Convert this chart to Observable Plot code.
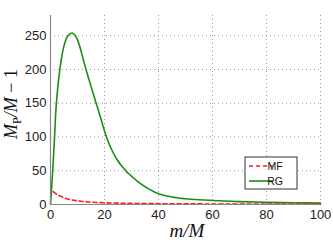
<!DOCTYPE html>
<html><head><meta charset="utf-8">
<script src="https://cdn.jsdelivr.net/npm/d3@7"></script>
<script src="https://cdn.jsdelivr.net/npm/@observablehq/plot@0.6"></script>
<style>body{margin:0;background:#fff}</style>
</head><body><div id="chart"></div>
<script>
const rgX = [0,0.5,1,1.5,2,2.5,3,4,5,6,7,8,9,10,11,12,13,14,15,16,17,18,19,20,21,22,23,24,25,26,27,28,29,30,32,34,36,38,40,45,50,55,60,70,80,90,100];
const rgY = [0,30,62,100,140,165,185,215,235,247,252,254,251,244,232,217,202,188.5,175,162,149,136,122.5,109,97,87,78.5,71,64.5,59,54,49.5,45.5,42,35,29,24,19.5,16,11,8.5,7,6,4.3,3.2,2.6,2.1];
const mfX = [1,2,3,4,5,6,8,10,12,15,20,25,30,40,50,60,80,100];
const mfY = [19,16,13.5,12,10,8.5,6.8,5.5,4.5,3.5,2.6,2,1.6,1.2,1,0.8,0.6,0.5];
const xTicks = [0,20,40,60,80,100];
const yTicks = [0,50,100,150,200,250];
const seriesNames = ["MF","RG"];

const rg = rgX.map((x,i)=>({x, y: rgY[i]}));
const mf = mfX.map((x,i)=>({x, y: mfY[i]}));

const green = "#1a8c1a", red = "#ff1a1a";

const chart = Plot.plot({
  width: 333, height: 242,
  marginLeft: 50, marginRight: 13, marginTop: 15, marginBottom: 38,
  style: {fontFamily: "Liberation Sans, Arial, sans-serif", fontSize: "13px", color: "#222", background: "#fff"},
  x: {domain: [0,100], ticks: xTicks, label: null},
  y: {domain: [0,280], ticks: yTicks, label: null},
  marks: [
    Plot.gridX(xTicks.slice(1), {stroke: "#999", strokeOpacity: 1, strokeDasharray: "1,3"}),
    Plot.gridY(yTicks.slice(1), {stroke: "#999", strokeOpacity: 1, strokeDasharray: "1,3"}),
    Plot.axisX(xTicks, {tickSize: 0, tickPadding: 5, fontSize: 13}),
    Plot.axisY(yTicks, {tickSize: 0, tickPadding: 4, fontSize: 13}),
    Plot.line(rg, {x: "x", y: "y", stroke: green, strokeWidth: 1.6, curve: "catmull-rom"}),
    Plot.line(mf, {x: "x", y: "y", stroke: red, strokeWidth: 1.6, strokeDasharray: "4,3", curve: "catmull-rom"}),
    Plot.ruleX([0], {stroke: "#888", strokeWidth: 1.2}),
    Plot.ruleY([0], {stroke: "#888", strokeWidth: 1.2})
  ]
});
document.getElementById("chart").appendChild(chart);

const svg = d3.select(chart);
// y label
const yl = svg.append("text")
  .attr("transform", "translate(17,104) rotate(-90)")
  .attr("text-anchor", "middle")
  .attr("font-family", "Liberation Serif, DejaVu Serif, serif")
  .attr("font-size", 18).attr("fill", "#111");
yl.append("tspan").attr("font-style", "italic").text("M");
yl.append("tspan").attr("font-size", 12).attr("dy", 4).text("P");
yl.append("tspan").attr("dy", -4).attr("font-style", "italic").text("/M");
yl.append("tspan").text(" − 1");
// x label
const xl = svg.append("text")
  .attr("x", 187).attr("y", 237)
  .attr("text-anchor", "middle")
  .attr("font-family", "Liberation Serif, DejaVu Serif, serif")
  .attr("font-size", 19).attr("fill", "#111");
xl.append("tspan").attr("font-style", "italic").text("m/M");

// legend
const lg = svg.append("g");
lg.append("rect").attr("x", 245).attr("y", 157).attr("width", 52).attr("height", 32)
  .attr("fill", "#fff").attr("stroke", "#333").attr("stroke-width", 1);
const colors = [red, green];
seriesNames.forEach((name, i) => {
  const yy = 166 + i * 15;
  lg.append("line").attr("x1", 249).attr("x2", 273).attr("y1", yy).attr("y2", yy)
    .attr("stroke", colors[i]).attr("stroke-width", 1.6)
    .attr("stroke-dasharray", i === 0 ? "4,3" : null);
  lg.append("text").attr("x", 275).attr("y", yy).attr("dy", "0.35em")
    .attr("font-family", "Liberation Sans, Arial, sans-serif").attr("font-size", 10.5)
    .attr("fill", "#111").text(name);
});
</script></body></html>
